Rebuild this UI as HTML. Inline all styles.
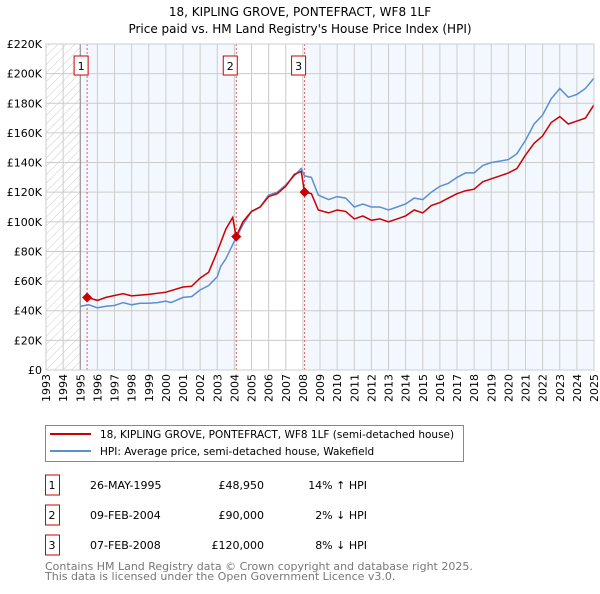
<!DOCTYPE html>
<html><head><meta charset="utf-8"><style>
body{margin:0;background:#fff;font-family:"DejaVu Sans","Liberation Sans",sans-serif;}
svg text{font-family:"DejaVu Sans","Liberation Sans",sans-serif;}
</style></head><body>
<svg id="c" width="600" height="590" xmlns="http://www.w3.org/2000/svg">
<defs><pattern id="hatch" width="6" height="6" patternUnits="userSpaceOnUse" patternTransform="rotate(45)"><line x1="0" y1="0" x2="0" y2="6" stroke="#ccc" stroke-width="1"/></pattern></defs>
<text x="300" y="16" text-anchor="middle" font-size="12">18, KIPLING GROVE, PONTEFRACT, WF8 1LF</text>
<text x="300" y="33" text-anchor="middle" font-size="12">Price paid vs. HM Land Registry's House Price Index (HPI)</text>
<g id="plot"></g>
<g>
<rect x="45.5" y="425.5" width="418" height="36" fill="#fff" stroke="#888"/>
<line x1="50" y1="434" x2="91" y2="434" stroke="#cc0000" stroke-width="2"/>
<text x="100" y="438" font-size="10.5">18, KIPLING GROVE, PONTEFRACT, WF8 1LF (semi-detached house)</text>
<line x1="50" y1="451" x2="91" y2="451" stroke="#5b8fd0" stroke-width="2"/>
<text x="100" y="455" font-size="10.5">HPI: Average price, semi-detached house, Wakefield</text>
</g>
<g id="table" font-size="11"></g>
<text x="45" y="570" font-size="11" fill="#777">Contains HM Land Registry data © Crown copyright and database right 2025.</text>
<text x="45" y="580" font-size="11" fill="#777">This data is licensed under the Open Government Licence v3.0.</text>
</svg>
<script>
const yTicks=[0,20,40,60,80,100,120,140,160,180,200,220];
const yTickLabels=["£0","£20K","£40K","£60K","£80K","£100K","£120K","£140K","£160K","£180K","£200K","£220K"];
const years=[1993,1994,1995,1996,1997,1998,1999,2000,2001,2002,2003,2004,2005,2006,2007,2008,2009,2010,2011,2012,2013,2014,2015,2016,2017,2018,2019,2020,2021,2022,2023,2024,2025];
const hpiT=[1995.0,1995.5,1996.0,1996.5,1997,1997.5,1998,1998.5,1999,1999.5,2000,2000.3,2001,2001.5,2002,2002.5,2003,2003.2,2003.5,2004,2004.5,2005,2005.5,2006,2006.5,2007,2007.5,2007.9,2008.1,2008.5,2008.9,2009.5,2010,2010.5,2011,2011.5,2012,2012.5,2013,2013.5,2014,2014.5,2015,2015.5,2016,2016.5,2017,2017.5,2018,2018.5,2019,2019.5,2020,2020.5,2021,2021.5,2022,2022.5,2023,2023.5,2024,2024.5,2025];
const hpiV=[43,44,42,43,43.5,45.5,44,45,45,45.5,46.5,45.5,49,49.5,54,57,63,70,75,87,98,107,110,118,120,125,131,136,131,130,118,115,117,116,110,112,110,110,108,110,112,116,115,120,124,126,130,133,133,138,140,141,142,146,155,166,172,183,190,184,186,190,197];
const ppT=[1995.4,1996,1996.5,1997.5,1998,1999,2000,2001,2001.5,2002,2002.5,2003,2003.5,2003.9,2004.1,2004.5,2005,2005.5,2006,2006.5,2007,2007.5,2007.9,2008.1,2008.5,2008.9,2009.5,2010,2010.5,2011,2011.5,2012,2012.5,2013,2013.5,2014,2014.5,2015,2015.5,2016,2016.5,2017,2017.5,2018,2018.5,2019,2019.5,2020,2020.5,2021,2021.5,2022,2022.5,2023,2023.5,2024,2024.5,2025];
const ppV=[49,47,49,51.5,50,51,52.5,56,56.5,62,66,80,95,103,90,100,107,110,117,119,124,132,134,120,119,108,106,108,107,102,104,101,102,100,102,104,108,106,111,113,116,119,121,122,127,129,131,133,136,145,153,158,167,171,166,168,170,179];
const saleT=[1995.4,2004.11,2008.1];
const saleV=[48.95,90,120];
const saleLabels=["1","2","3"];
const saleDates=["26-MAY-1995","09-FEB-2004","07-FEB-2008"];
const salePrices=["£48,950","£90,000","£120,000"];
const saleDiff=["14% ↑ HPI","2% ↓ HPI","8% ↓ HPI"];

const X0=46,X1=594,Y0=370,Y1=44;
const xs=t=>X0+(t-1993)/32*(X1-X0);
const ys=v=>Y0-v/220*(Y0-Y1);
const NS="http://www.w3.org/2000/svg";
const g=document.getElementById('plot');
function mk(tag,attrs,parent){const e=document.createElementNS(NS,tag);for(const k in attrs)e.setAttribute(k,attrs[k]);(parent||g).appendChild(e);return e;}
let r=mk('rect',{x:xs(1995),y:Y1,width:xs(2004.11)-xs(1995),height:Y0-Y1,fill:'#f3f7fe'});


r=mk('rect',{x:xs(2008.1),y:Y1,width:X1-xs(2008.1),height:Y0-Y1,fill:'#f3f7fe'});


r=mk('rect',{x:X0,y:Y1,width:xs(1995)-X0,height:Y0-Y1,fill:'url(#hatch)'});


years.forEach(yr=>{const x=xs(yr);
 const l=mk('line',{x1:x,y1:Y1,x2:x,y2:Y0,stroke:'#ccc','stroke-width':1});
 
 
 const wg=mk('g',{transform:'translate('+(x+4)+','+(Y0+4)+') rotate(-90)'});
 const t=mk('text',{x:0,y:0,'font-size':11,'text-anchor':'end'},wg);
 t.textContent=yr;
 
 
});
yTicks.forEach((v,i)=>{const y=ys(v);
 const l=mk('line',{x1:X0,y1:y,x2:X1,y2:y,stroke:'#ccc','stroke-width':1});
 
 
 const t=mk('text',{x:X0-4,y:y+4,'font-size':11,'text-anchor':'end'});
 t.textContent=yTickLabels[i];
 
 
});
let l=mk('line',{x1:xs(1995),y1:Y1,x2:xs(1995),y2:Y0,stroke:'#888','stroke-width':1});


saleT.forEach((t,i)=>{const x=xs(t);
 const d=mk('line',{x1:x,y1:Y1,x2:x,y2:Y0,stroke:'#e06060','stroke-width':1,'stroke-dasharray':'2,2'});
 
 
 const b=mk('rect',{x:x-13,y:56,width:14,height:19,fill:'#fff',stroke:'#cc0000'});
 
 
 const tx=mk('text',{x:x-6,y:70,'font-size':11,'text-anchor':'middle'});
 tx.textContent=saleLabels[i];
 
 
});
const path=(T,V)=>T.map((t,i)=>(i?'L':'M')+xs(t).toFixed(1)+','+ys(V[i]).toFixed(1)).join('');
let p=mk('path',{d:path(hpiT,hpiV),fill:'none',stroke:'#5b8fd0','stroke-width':1.5});


p=mk('path',{d:path(ppT,ppV),fill:'none',stroke:'#cc0000','stroke-width':1.5});


saleT.forEach((t,i)=>{const x=xs(t),y=ys(saleV[i]);
 const m=mk('path',{d:`M${x},${y-5}L${x+5},${y}L${x},${y+5}L${x-5},${y}Z`,fill:'#cc0000'});
 
 
});
let f=mk('rect',{x:X0,y:Y1,width:X1-X0,height:Y0-Y1,fill:'none',stroke:'#ccc'});


const tb=document.getElementById('table');
saleT.forEach((t,i)=>{const cy=485+i*30;
 const b=mk('rect',{x:45.5,y:cy-10,width:14,height:20,fill:'#fff',stroke:'#cc0000'},tb);
 
 
 const cells=[[52,saleLabels[i],'middle'],[90,saleDates[i],'start'],[264,salePrices[i],'end'],[367,saleDiff[i],'end']];
 cells.forEach(c=>{const e=mk('text',{x:c[0],y:cy+4,'text-anchor':c[2]},tb);e.textContent=c[1];
  
  });
});
</script>
</body></html>
